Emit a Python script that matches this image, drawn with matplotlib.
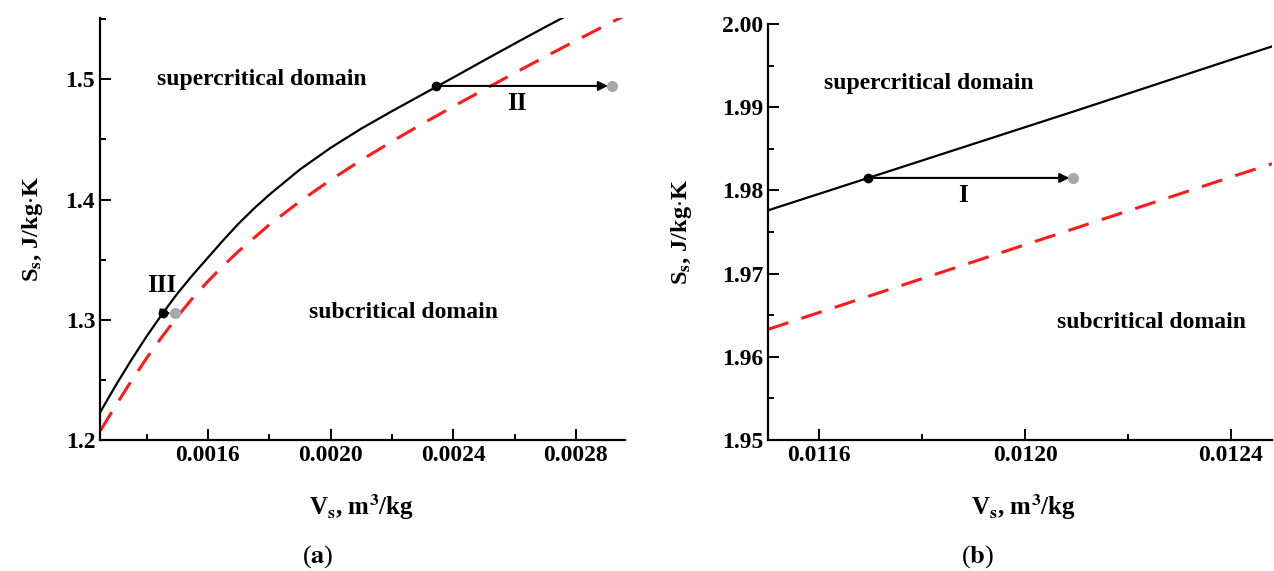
import matplotlib

matplotlib.use("Agg")
import matplotlib.pyplot as plt  # noqa: E402
from matplotlib.ticker import MultipleLocator, FormatStrFormatter  # noqa: E402

plt.rcParams["font.family"] = ["Liberation Serif", "DejaVu Serif"]
plt.rcParams["mathtext.fontset"] = "stix"

# panel (a): saturation curves
A_V_SOLID = [0.00125, 0.0013, 0.00135, 0.0014, 0.00145, 0.0015, 0.00155, 0.0016, 0.00165,
             0.0017, 0.00175, 0.0018, 0.0019, 0.0020, 0.0021, 0.0022, 0.0023, 0.0024,
             0.0025, 0.0026, 0.0027, 0.0028]
A_S_SOLID = [1.2237, 1.2457, 1.2665, 1.2862, 1.3045, 1.3217, 1.3372, 1.3517, 1.3662,
             1.380, 1.3925, 1.404, 1.425, 1.443, 1.459, 1.4735, 1.4875, 1.5015,
             1.5157, 1.5297, 1.5435, 1.557]
A_V_DASH = [0.00125, 0.0013, 0.00135, 0.0014, 0.00145, 0.0015, 0.00155, 0.0016, 0.00165,
            0.0017, 0.0018, 0.0019, 0.0020, 0.0021, 0.0022, 0.0023, 0.0024, 0.0025,
            0.0026, 0.0027, 0.0028, 0.0029, 0.00296]
A_S_DASH = [1.208, 1.229, 1.249, 1.268, 1.2858, 1.3025, 1.318, 1.332, 1.345,
            1.357, 1.379, 1.3985, 1.4163, 1.4328, 1.4483, 1.4631, 1.4774, 1.4914,
            1.5052, 1.5188, 1.5322, 1.5454, 1.553]
A_PATHS = [("II", 0.002343, 0.002918, 1.4945), ("III", 0.001455, 0.001492, 1.3055)]

# panel (b)
B_V_SOLID = [0.0115, 0.0118, 0.0121, 0.0124, 0.01248]
B_S_SOLID = [1.9776, 1.9836, 1.9896, 1.9957, 1.9973]
B_V_DASH = [0.0115, 0.0118, 0.0121, 0.0124, 0.01248]
B_S_DASH = [1.9633, 1.9694, 1.9755, 1.9816, 1.9832]
B_PATHS = [("I", 0.011695, 0.012094, 1.9815)]

INK = "black"
RED = "#ff1a1a"
GREY = "#a8a8a8"
FS_TICK, FS_TXT = 17, 17


def style(ax, xlab_y, ylab_x):
    for side in ("top", "right"):
        ax.spines[side].set_visible(False)
    for side in ("left", "bottom"):
        ax.spines[side].set_linewidth(1.6)
    ax.tick_params(which="both", direction="in", width=1.4, labelsize=FS_TICK)
    ax.tick_params(which="major", length=8)
    ax.tick_params(which="minor", length=4)
    for lab in ax.get_xticklabels() + ax.get_yticklabels():
        lab.set_fontweight("bold")
    ax.set_xlabel(r"V$_\mathbf{s}$, m$^\mathbf{3}$/kg", fontsize=18, fontweight="bold")
    ax.set_ylabel(r"S$_\mathbf{s}$, J/kg$\cdot$K", fontsize=17.5, fontweight="bold")
    ax.xaxis.set_label_coords(*xlab_y)
    ax.yaxis.set_label_coords(*ylab_x)
    ax.xaxis.label.set_va("center")
    ax.yaxis.label.set_va("center")


def path(ax, v0, v1, s):
    ax.annotate("", xy=(v1, s), xytext=(v0, s),
                arrowprops=dict(arrowstyle="-|>", color=INK, lw=1.5,
                                mutation_scale=14, shrinkA=0, shrinkB=3))
    ax.plot([v0], [s], "o", color=INK, ms=6, zorder=5)
    ax.plot([v1], [s], "o", color=GREY, ms=7, zorder=5)


fig = plt.figure(figsize=(12.74, 5.71), dpi=100)
ax1 = fig.add_axes([100 / 1274, 131 / 571, 525 / 1274, 422 / 571])
ax2 = fig.add_axes([768 / 1274, 131 / 571, 504 / 1274, 416 / 571])

ax1.plot(A_V_SOLID, A_S_SOLID, color=INK, lw=1.6)
ax1.plot(A_V_DASH, A_S_DASH, color=RED, lw=2.2, dashes=(7, 4.5))
for name, v0, v1, s in A_PATHS:
    path(ax1, v0, v1, s)
ax1.set_xlim(0.001248, 0.00296)
ax1.set_ylim(1.2, 1.551)
ax1.xaxis.set_major_locator(MultipleLocator(0.0004))
ax1.xaxis.set_minor_locator(MultipleLocator(0.0002))
ax1.yaxis.set_major_locator(MultipleLocator(0.1))
ax1.yaxis.set_minor_locator(MultipleLocator(0.05))
ax1.xaxis.set_major_formatter(FormatStrFormatter("%.4f"))
ax1.yaxis.set_major_formatter(FormatStrFormatter("%.1f"))
ax1.text(0.001434, 1.5, "supercritical domain", fontsize=FS_TXT, fontweight="bold",
         va="center", ha="left")
ax1.text(0.001929, 1.3058, "subcritical domain", fontsize=FS_TXT, fontweight="bold",
         va="center", ha="left")
ax1.text(0.002607, 1.48, "II", fontsize=FS_TXT + 1, fontweight="bold", ha="center", va="center")
ax1.text(0.00145, 1.3288, "III", fontsize=FS_TXT + 1, fontweight="bold", ha="center", va="center")
style(ax1, (0.499, -0.159), (-0.128, 0.5))

ax2.plot(B_V_SOLID, B_S_SOLID, color=INK, lw=1.6)
ax2.plot(B_V_DASH, B_S_DASH, color=RED, lw=2.2, dashes=(7, 4.5))
for name, v0, v1, s in B_PATHS:
    path(ax2, v0, v1, s)
ax2.set_xlim(0.0115, 0.01248)
ax2.set_ylim(1.95, 2.0)
ax2.xaxis.set_major_locator(MultipleLocator(0.0004))
ax2.xaxis.set_minor_locator(MultipleLocator(0.0002))
ax2.yaxis.set_major_locator(MultipleLocator(0.01))
ax2.yaxis.set_minor_locator(MultipleLocator(0.005))
ax2.xaxis.set_major_formatter(FormatStrFormatter("%.4f"))
ax2.yaxis.set_major_formatter(FormatStrFormatter("%.2f"))
ax2.text(0.011608, 1.9929, "supercritical domain", fontsize=FS_TXT, fontweight="bold",
         va="center", ha="left")
ax2.text(0.012061, 1.9641, "subcritical domain", fontsize=FS_TXT, fontweight="bold",
         va="center", ha="left")
ax2.text(0.01188, 1.9794, "I", fontsize=FS_TXT + 1, fontweight="bold", ha="center", va="center")
style(ax2, (0.506, -0.161), (-0.171, 0.5))

fig.text(318 / 1274, 1 - 557 / 571, r"($\mathbf{a}$)", fontsize=19, ha="center", va="center")
fig.text(978 / 1274, 1 - 557 / 571, r"($\mathbf{b}$)", fontsize=19, ha="center", va="center")

fig.savefig("out.png", dpi=100)
